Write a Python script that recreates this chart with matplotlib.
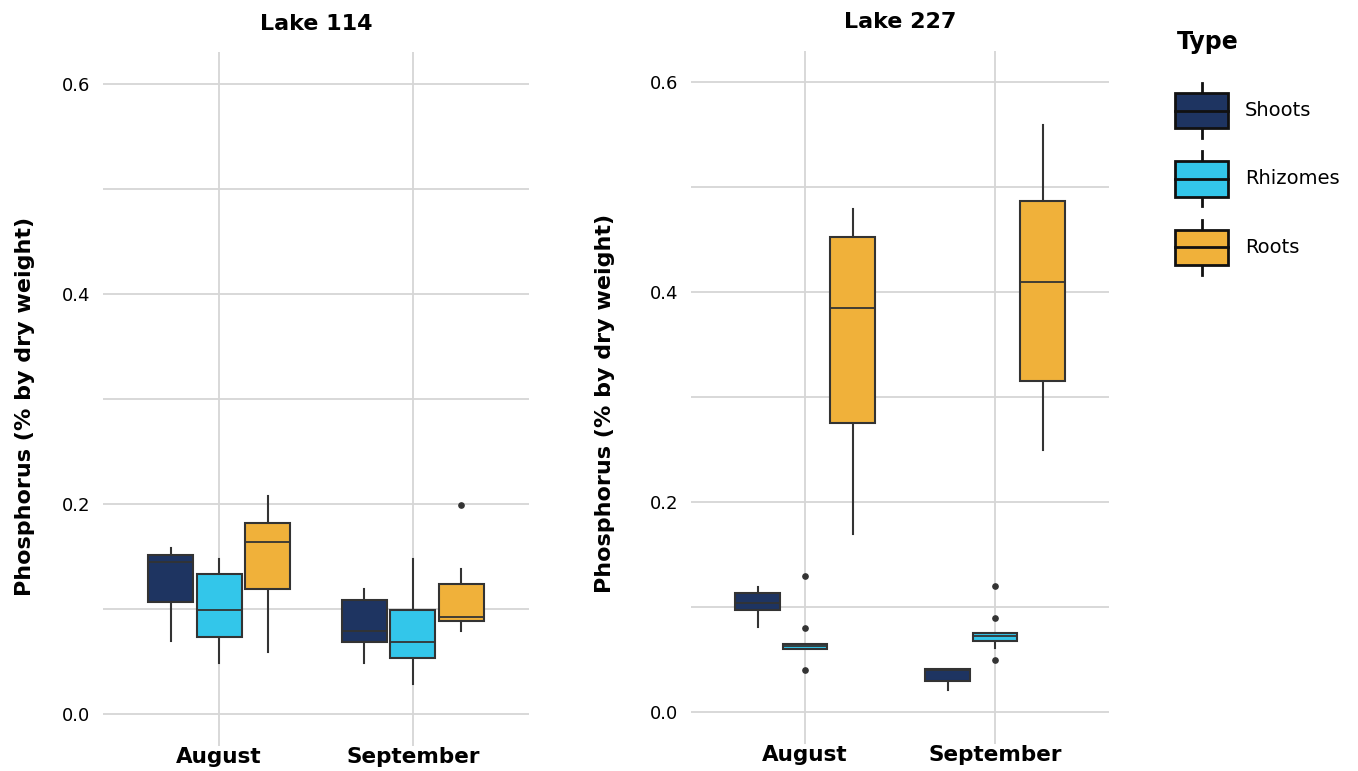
import matplotlib
matplotlib.use('Agg')
import matplotlib.pyplot as plt
from matplotlib.patches import Patch, Rectangle
from matplotlib.lines import Line2D
from matplotlib.legend_handler import HandlerBase

plt.rcParams['font.family'] = ['DejaVu Sans']

months = ['August', 'September']
types = ['Shoots', 'Rhizomes', 'Roots']
colors = ['#1E3461', '#33C6EA', '#F0B13A']
lakes = ['Lake 114', 'Lake 227']

# box stats: (whislo, q1, med, q3, whishi, fliers)
lake114 = {
    ('August', 'Shoots'):      (0.070, 0.107, 0.145, 0.152, 0.158, []),
    ('August', 'Rhizomes'):    (0.049, 0.074, 0.099, 0.134, 0.148, []),
    ('August', 'Roots'):       (0.059, 0.119, 0.164, 0.182, 0.208, []),
    ('September', 'Shoots'):   (0.049, 0.069, 0.079, 0.109, 0.119, []),
    ('September', 'Rhizomes'): (0.029, 0.054, 0.069, 0.099, 0.148, []),
    ('September', 'Roots'):    (0.079, 0.089, 0.093, 0.124, 0.138, [0.199]),
}
lake227 = {
    ('August', 'Shoots'):      (0.081, 0.097, 0.104, 0.113, 0.119, []),
    ('August', 'Rhizomes'):    (0.060, 0.060, 0.0626, 0.065, 0.065, [0.130, 0.080, 0.040]),
    ('August', 'Roots'):       (0.170, 0.275, 0.385, 0.452, 0.479, []),
    ('September', 'Shoots'):   (0.021, 0.030, 0.040, 0.0406, 0.0406, []),
    ('September', 'Rhizomes'): (0.061, 0.068, 0.072, 0.0755, 0.0755, [0.120, 0.090, 0.050]),
    ('September', 'Roots'):    (0.250, 0.315, 0.410, 0.487, 0.559, []),
}
all_data = [lake114, lake227]

W, H = 1358, 771
fig = plt.figure(figsize=(W / 100, H / 100), dpi=100)

# axes boxes in pixels: left, top, right, bottom
boxes = [(103, 52, 529, 746), (691, 50.5, 1109, 743.5)]
label_x = [-0.16, -0.182]

edge = '#333333'
grid_c = '#D6D6D6'

for i, (lake, data) in enumerate(zip(lakes, all_data)):
    l, t, r, b = boxes[i]
    ax = fig.add_axes([l / W, 1 - b / H, (r - l) / W, (b - t) / H])

    stats, positions, fcs = [], [], []
    for mi, m in enumerate(months):
        for ti, tp in enumerate(types):
            lo, q1, med, q3, hi, fl = data[(m, tp)]
            stats.append(dict(whislo=lo, q1=q1, med=med, q3=q3, whishi=hi, fliers=fl))
            positions.append(mi + 1 + (ti - 1) * 0.25)
            fcs.append(colors[ti])

    bp = ax.bxp(stats, positions=positions, widths=0.232, patch_artist=True,
                showcaps=False, manage_ticks=False,
                boxprops=dict(edgecolor=edge, linewidth=1.5),
                medianprops=dict(color=edge, linewidth=1.3),
                whiskerprops=dict(color=edge, linewidth=1.5),
                flierprops=dict(marker='o', markerfacecolor=edge, markeredgecolor=edge,
                                markersize=3.8))
    for patch, fc in zip(bp['boxes'], fcs):
        patch.set_facecolor(fc)
        patch.set_zorder(3)
    for art in bp['whiskers']:
        art.set_zorder(2.5)
    for art in bp['medians'] + bp['fliers']:
        art.set_zorder(4)

    ax.set_xlim(0.4, 2.6)
    ax.set_ylim(-0.03, 0.63)
    ax.set_xticks([1, 2])
    ax.set_xticklabels(months, fontsize=15.5, fontweight='bold')
    ax.set_yticks([0.0, 0.2, 0.4, 0.6])
    ax.set_yticklabels(['0.0', '0.2', '0.4', '0.6'], fontsize=13)
    ax.set_yticks([0.1, 0.3, 0.5], minor=True)
    ax.tick_params(axis='both', which='both', length=0)
    ax.tick_params(axis='y', pad=9)
    ax.tick_params(axis='x', pad=1)
    ax.grid(True, which='both', color=grid_c, linewidth=1.3)
    ax.set_axisbelow(True)
    for s in ax.spines.values():
        s.set_visible(False)

    ax.set_title(lake, fontsize=16, fontweight='bold', pad=16)
    ax.set_ylabel('Phosphorus (% by dry weight)', fontsize=16, fontweight='bold')
    ax.yaxis.set_label_coords(label_x[i], 0.49)


class BoxKey(HandlerBase):
    def create_artists(self, legend, orig_handle, xdescent, ydescent,
                       width, height, fontsize, trans):
        fc = orig_handle.get_facecolor()
        x0, y0 = -xdescent, -ydescent
        bh = height * 0.64
        by = y0 + (height - bh) / 2
        cx = x0 + width / 2
        rect = Rectangle((x0, by), width, bh, facecolor=fc, edgecolor='#111111',
                         linewidth=2, transform=trans)
        med = Line2D([x0, x0 + width], [y0 + height / 2] * 2, color='#111111',
                     linewidth=2, transform=trans)
        w1 = Line2D([cx, cx], [y0, by], color='#111111', linewidth=2, transform=trans)
        w2 = Line2D([cx, cx], [by + bh, y0 + height], color='#111111', linewidth=2,
                    transform=trans)
        return [w1, w2, rect, med]


handles = [Patch(facecolor=c) for c in colors]
leg = fig.legend(handles, types, loc='upper left',
                 bbox_to_anchor=(1175 / W, 1 - 83 / H),
                 handler_map={Patch: BoxKey()},
                 frameon=False, fontsize=14,
                 handlelength=2.73, handleheight=3.975, labelspacing=0.69,
                 handletextpad=0.87, borderaxespad=0, borderpad=0)
fig.text(1177 / W, 1 - 42 / H, 'Type', fontsize=17, fontweight='bold',
         ha='left', va='center')

fig.savefig('out.png', dpi=100)
